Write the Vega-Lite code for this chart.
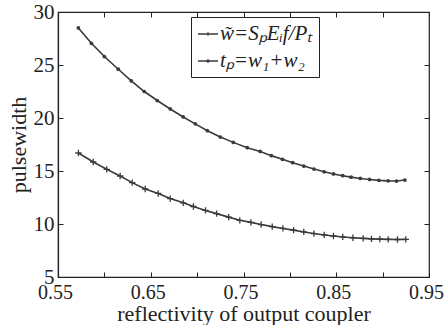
{
  "$schema": "https://vega.github.io/schema/vega-lite/v6.json",
  "width": 371,
  "height": 265,
  "autosize": {"type": "none"},
  "padding": {"left": 58, "top": 12, "right": 17, "bottom": 48},
  "background": "white",
  "config": {
    "font": "Liberation Serif",
    "view": {"stroke": "#222", "strokeWidth": 1.2},
    "axis": {
      "domainColor": "#222",
      "domainWidth": 1.2,
      "tickColor": "#222",
      "labelColor": "#222",
      "titleColor": "#222",
      "labelFont": "Liberation Serif",
      "titleFont": "Liberation Serif",
      "labelFontSize": 21,
      "titleFontSize": 22,
      "titleFontWeight": "normal",
      "tickSize": -5,
      "grid": false
    }
  },
  "data": {
    "values": [
      {"series": "t", "r": 0.572, "pw": 28.5},
      {"series": "t", "r": 0.586, "pw": 27.05},
      {"series": "t", "r": 0.600, "pw": 25.8},
      {"series": "t", "r": 0.615, "pw": 24.6},
      {"series": "t", "r": 0.629, "pw": 23.5},
      {"series": "t", "r": 0.643, "pw": 22.5},
      {"series": "t", "r": 0.657, "pw": 21.65},
      {"series": "t", "r": 0.671, "pw": 20.85},
      {"series": "t", "r": 0.685, "pw": 20.1},
      {"series": "t", "r": 0.698, "pw": 19.45},
      {"series": "t", "r": 0.711, "pw": 18.8},
      {"series": "t", "r": 0.725, "pw": 18.2},
      {"series": "t", "r": 0.739, "pw": 17.7},
      {"series": "t", "r": 0.754, "pw": 17.2},
      {"series": "t", "r": 0.768, "pw": 16.85},
      {"series": "t", "r": 0.780, "pw": 16.45},
      {"series": "t", "r": 0.792, "pw": 16.1},
      {"series": "t", "r": 0.803, "pw": 15.78},
      {"series": "t", "r": 0.815, "pw": 15.47},
      {"series": "t", "r": 0.826, "pw": 15.18},
      {"series": "t", "r": 0.837, "pw": 14.92},
      {"series": "t", "r": 0.847, "pw": 14.72},
      {"series": "t", "r": 0.857, "pw": 14.56},
      {"series": "t", "r": 0.866, "pw": 14.42},
      {"series": "t", "r": 0.876, "pw": 14.3},
      {"series": "t", "r": 0.886, "pw": 14.2},
      {"series": "t", "r": 0.896, "pw": 14.12},
      {"series": "t", "r": 0.906, "pw": 14.07},
      {"series": "t", "r": 0.915, "pw": 14.05},
      {"series": "t", "r": 0.924, "pw": 14.15},
      {"series": "w", "r": 0.572, "pw": 16.7},
      {"series": "w", "r": 0.588, "pw": 15.85},
      {"series": "w", "r": 0.6025, "pw": 15.16},
      {"series": "w", "r": 0.617, "pw": 14.53},
      {"series": "w", "r": 0.630, "pw": 13.9},
      {"series": "w", "r": 0.644, "pw": 13.3},
      {"series": "w", "r": 0.658, "pw": 12.88},
      {"series": "w", "r": 0.671, "pw": 12.4},
      {"series": "w", "r": 0.685, "pw": 12.0},
      {"series": "w", "r": 0.696, "pw": 11.65},
      {"series": "w", "r": 0.709, "pw": 11.28},
      {"series": "w", "r": 0.721, "pw": 10.98},
      {"series": "w", "r": 0.734, "pw": 10.65},
      {"series": "w", "r": 0.746, "pw": 10.35},
      {"series": "w", "r": 0.758, "pw": 10.15},
      {"series": "w", "r": 0.769, "pw": 9.95},
      {"series": "w", "r": 0.781, "pw": 9.75},
      {"series": "w", "r": 0.7925, "pw": 9.58},
      {"series": "w", "r": 0.804, "pw": 9.42},
      {"series": "w", "r": 0.815, "pw": 9.25},
      {"series": "w", "r": 0.826, "pw": 9.1},
      {"series": "w", "r": 0.837, "pw": 8.97},
      {"series": "w", "r": 0.847, "pw": 8.87},
      {"series": "w", "r": 0.857, "pw": 8.78},
      {"series": "w", "r": 0.868, "pw": 8.7},
      {"series": "w", "r": 0.879, "pw": 8.64},
      {"series": "w", "r": 0.888, "pw": 8.6},
      {"series": "w", "r": 0.897, "pw": 8.57},
      {"series": "w", "r": 0.906, "pw": 8.55},
      {"series": "w", "r": 0.916, "pw": 8.54},
      {"series": "w", "r": 0.925, "pw": 8.55}
    ]
  },
  "layer": [
    {
      "mark": {"type": "line", "strokeWidth": 1.6},
      "encoding": {
        "x": {
          "field": "r", "type": "quantitative",
          "scale": {"domain": [0.55, 0.95], "nice": false, "zero": false},
          "axis": {
            "orient": "bottom",
            "title": "reflectivity of output coupler",
            "values": [0.55, 0.6, 0.65, 0.7, 0.75, 0.8, 0.85, 0.9, 0.95],
            "format": ".2f",
            "labelExpr": "indexof(['0.55','0.65','0.75','0.85','0.95'], datum.label) >= 0 ? datum.label : ''",
            "labelFontSize": 20,
            "labelPadding": 10,
            "labelOffset": -3,
            "titlePadding": 1,
            "labelFlush": false
          }
        },
        "y": {
          "field": "pw", "type": "quantitative",
          "scale": {"domain": [5, 30], "nice": false, "zero": false},
          "axis": {
            "orient": "left",
            "title": "pulsewidth",
            "values": [5, 10, 15, 20, 25, 30],
            "labelPadding": 9,
            "titlePadding": 3,
            "labelFlush": false
          }
        },
        "color": {
          "field": "series", "type": "nominal",
          "scale": {"domain": ["w", "t"], "range": ["#3a3a3a", "#3a3a3a"]},
          "legend": {
            "orient": "none",
            "legendX": 133,
            "legendY": 5,
            "title": null,
            "strokeColor": "#222",
            "padding": 6,
            "rowPadding": 6,
            "labelFont": "Liberation Serif",
            "labelFontSize": 21,
            "labelFontStyle": "italic",
            "labelColor": "#222",
            "labelOffset": 1,
            "symbolSize": 400,
            "symbolStrokeWidth": 1.3,
            "labelExpr": "datum.value == 'w' ? 'w̃=SₚEᵢf/Pₜ' : 'tₚ=w₁+w₂'",
            "encode": {
              "symbols": {
                "update": {
                  "shape": {"signal": "datum.value == 'w' ? 'M-1,0H1M0,-0.18V0.18' : 'M-1,0H1M-0.1,0A0.1,0.1 0 1,0 0.1,0A0.1,0.1 0 1,0 -0.1,0'"},
                  "stroke": {"value": "#3a3a3a"},
                  "fill": {"value": "#3a3a3a"},
                  "strokeWidth": {"value": 1.3}
                }
              }
            }
          }
        }
      }
    },
    {
      "transform": [{"filter": "datum.series == 'w'"}],
      "mark": {"type": "point", "shape": "M-1,0H1M0,-1V1", "filled": false, "stroke": "#3a3a3a", "strokeWidth": 1.3, "size": 40, "opacity": 1},
      "encoding": {
        "x": {
          "field": "r", "type": "quantitative",
          "scale": {"domain": [0.55, 0.95], "nice": false, "zero": false},
          "axis": {"orient": "top", "title": null, "labels": false, "domain": false,
                   "values": [0.55, 0.6, 0.65, 0.7, 0.75, 0.8, 0.85, 0.9, 0.95]}
        },
        "y": {
          "field": "pw", "type": "quantitative",
          "scale": {"domain": [5, 30], "nice": false, "zero": false},
          "axis": {"orient": "right", "title": null, "labels": false, "domain": false,
                   "values": [5, 10, 15, 20, 25, 30]}
        }
      }
    },
    {
      "transform": [{"filter": "datum.series == 't'"}],
      "mark": {"type": "point", "shape": "circle", "filled": true, "color": "#3a3a3a", "size": 14, "opacity": 1},
      "encoding": {
        "x": {"field": "r", "type": "quantitative", "axis": null},
        "y": {"field": "pw", "type": "quantitative", "axis": null}
      }
    }
  ],
  "resolve": {"axis": {"x": "independent", "y": "independent"}}
}
